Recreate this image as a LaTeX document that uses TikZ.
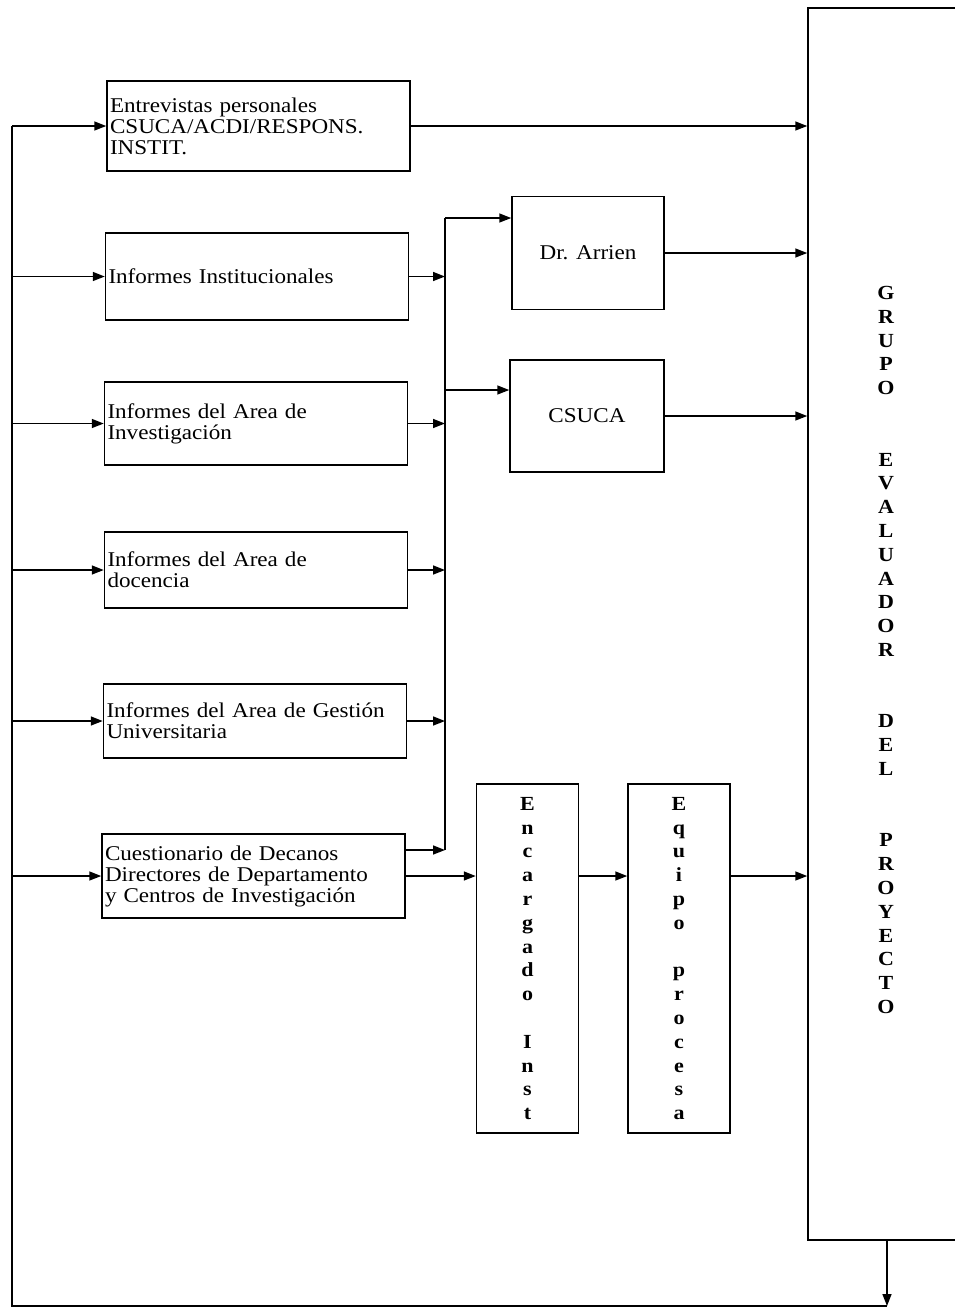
\documentclass[tikz,border=0pt]{standalone}
\usepackage{fontspec}
\setmainfont{Liberation Serif}[FakeStretch=1.1]
\usetikzlibrary{arrows.meta,positioning,calc}

\tikzset{
  fuente/.style={draw,line width=1.5pt,text width=297pt,inner sep=3pt,align=left,minimum height=#1},
  caja/.style={draw,line width=1.5pt,minimum width=152pt,minimum height=113pt},
  vert/.style={draw,line width=1.5pt,minimum width=102pt,minimum height=349pt,align=center,font=\fontsize{20}{23.8}\selectfont\bfseries},
  flow/.style={line width=1.5pt,-{Triangle[length=12pt,width=9pt]}}
}

\begin{document}
\begin{tikzpicture}[x=1pt,y=-1pt,font=\fontsize{21}{21}\selectfont]
      \useasboundingbox (0,0) rectangle (955,1310);
      \clip (0,0) rectangle (955,1310);
      % fuentes de informacion
      \node[fuente=90pt] (ent) at (258.5,126) {Entrevistas personales\\CSUCA/ACDI/RESPONS.\\INSTIT.};
      \node[fuente=87pt] (ins) at (257,276.5) {Informes Institucionales};
      \node[fuente=83pt] (inv) at (256,423.5) {Informes del Area de\\Investigación};
      \node[fuente=76pt] (doc) at (256,570) {Informes del Area de\\docencia};
      \node[fuente=74pt] (ges) at (255,721) {Informes del Area de Gestión\\Universitaria};
      \node[fuente=84pt] (cue) at (253.5,876) {Cuestionario de Decanos\\Directores de Departamento\\y Centros de Investigación};
      % procesamiento
      \node[caja] (arr) at (588,253) {Dr. Arrien};
      \node[caja,minimum width=154pt,minimum height=112pt] (csu) at (587,416) {CSUCA};
      \node[vert] (enc) at (527.5,958.5) {E\\n\\c\\a\\r\\g\\a\\d\\o\\[23.8pt]I\\n\\s\\t};
      \node[vert] (equ) at (679,958.5) {E\\q\\u\\i\\p\\o\\[23.8pt]p\\r\\o\\c\\e\\s\\a};
      \node[draw,line width=1.5pt,minimum width=156pt,minimum height=1232pt] (grupo) at (886,624) {};
      \node[align=center,font=\fontsize{20}{23.8}\selectfont\bfseries] (grupotxt) at (886,650)
        {G\\R\\U\\P\\O\\[47.6pt]E\\V\\A\\L\\U\\A\\D\\O\\R\\[47.6pt]D\\E\\L\\[47.6pt]P\\R\\O\\Y\\E\\C\\T\\O};
      % barra colectora
      \coordinate (bus) at (445,218);
      \coordinate (busb) at (445,850);
      \coordinate (csuin) at ([yshift=26pt]csu.west);
      \coordinate (cueup) at ([yshift=26pt]cue.east);
      \draw[line width=1.5pt] (busb) -- (bus);
      \draw[flow] (bus) -- (bus -| arr.west);
      \draw[flow] (bus |- csuin) -- (csuin);
      \draw[flow] (ins.east) -- (ins.east -| bus);
      \draw[flow] (inv.east) -- (inv.east -| bus);
      \draw[flow] (doc.east) -- (doc.east -| bus);
      \draw[flow] (ges.east) -- (ges.east -| bus);
      \draw[flow] (cueup) -- (cueup -| bus);
      % hacia el grupo evaluador
      \draw[flow] (ent.east) -- (ent.east -| grupo.west);
      \draw[flow] (arr.east) -- (arr.east -| grupo.west);
      \draw[flow] (csu.east) -- (csu.east -| grupo.west);
      \draw[flow] (cue.east) -- (cue.east -| enc.west);
      \draw[flow] (cue.east -| enc.east) -- (cue.east -| equ.west);
      \draw[flow] (cue.east -| equ.east) -- (cue.east -| grupo.west);
      % retorno
      \coordinate (br) at (887,1306);
      \coordinate (lb) at (12,1306);
      \draw[flow] (grupo.south -| br) -- (br);
      \draw[line width=1.5pt] (br) -- (lb) -- (lb |- ent.west);
      \draw[flow] (lb |- ent.west) -- (ent.west);
      \draw[flow] (lb |- ins.west) -- (ins.west);
      \draw[flow] (lb |- inv.west) -- (inv.west);
      \draw[flow] (lb |- doc.west) -- (doc.west);
      \draw[flow] (lb |- ges.west) -- (ges.west);
      \draw[flow] (lb |- cue.west) -- (cue.west);
\end{tikzpicture}
\end{document}
